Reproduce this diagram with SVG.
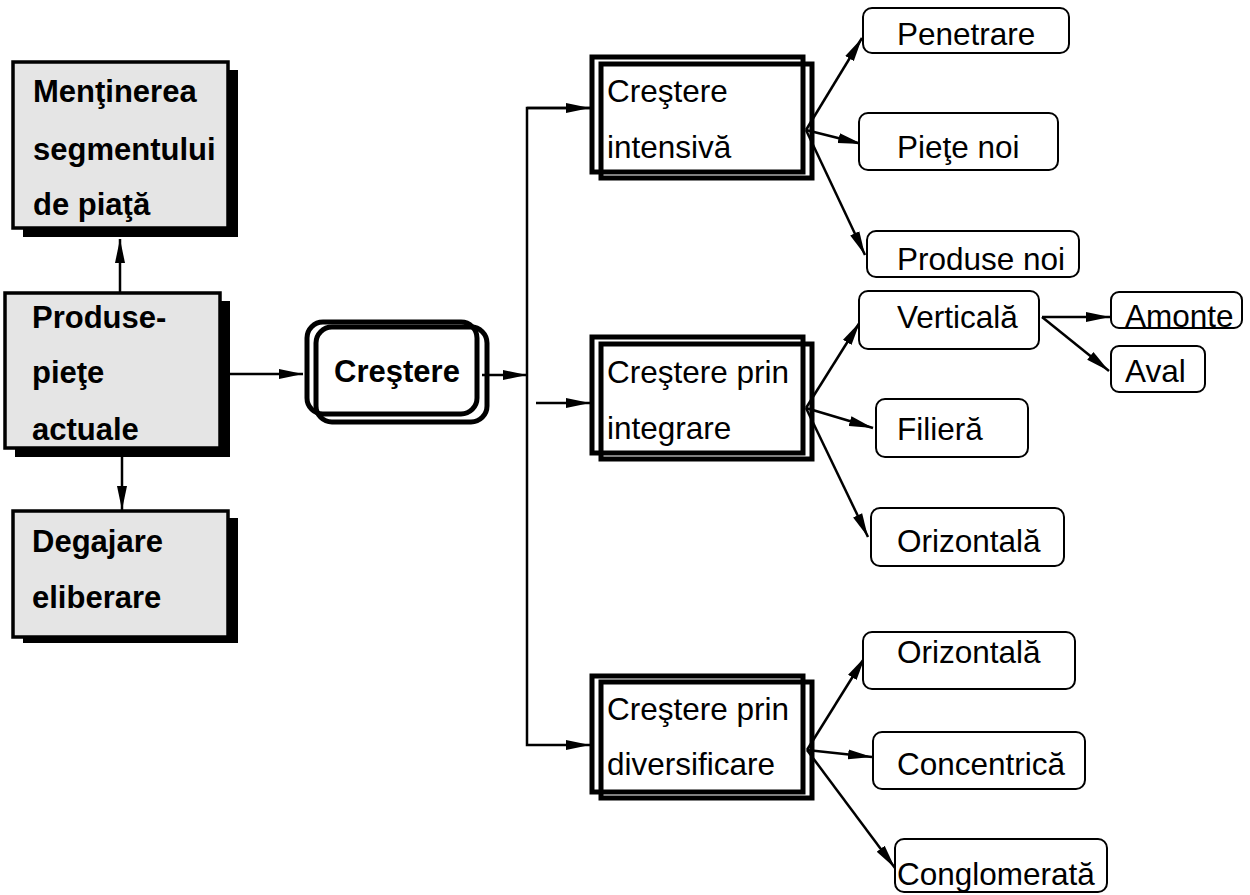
<svg xmlns="http://www.w3.org/2000/svg" width="1250" height="895" viewBox="0 0 1250 895">
  <style>
    text { font-family: "Liberation Sans", Arial, sans-serif; fill: #000; }
    .bold { font-weight: bold; font-size: 31px; }
    .reg { font-size: 31.5px; }
    .shadow { fill: #000; }
    .gray { fill: #e5e5e5; stroke: #000; stroke-width: 3.5; }
    .dbl { fill: none; stroke: #000; stroke-width: 5; }
    .round2 { fill: none; stroke: #000; stroke-width: 5; }
    .leaf { fill: #fff; stroke: #000; stroke-width: 2; }
    .conn { fill: none; stroke: #000; stroke-width: 2.5; }
  </style>
  <defs>
    <marker id="arrow" markerUnits="userSpaceOnUse" markerWidth="25" markerHeight="11" refX="24" refY="5.5" orient="auto">
      <path d="M0,0.5 L24,5.5 L0,10.5 z" fill="#000"/>
    </marker>
  </defs>
  <rect width="1250" height="895" fill="#fff"/>

  <!-- connectors -->
  <g id="connectors">
    <line class="conn" x1="120" y1="293" x2="120" y2="239" marker-end="url(#arrow)"/>
    <line class="conn" x1="122" y1="457" x2="122" y2="510" marker-end="url(#arrow)"/>
    <line class="conn" x1="230" y1="374" x2="303" y2="374" marker-end="url(#arrow)"/>
    <line class="conn" x1="482" y1="375" x2="527" y2="375" marker-end="url(#arrow)"/>
    <polyline class="conn" points="590,108 527,108 527,745 590,745" marker-end="url(#arrow)"/>
    <line class="conn" x1="527" y1="108" x2="590" y2="108" marker-end="url(#arrow)"/>
    <line class="conn" x1="536" y1="403" x2="590" y2="403" marker-end="url(#arrow)"/>

    <line class="conn" x1="806" y1="130" x2="862" y2="38" marker-end="url(#arrow)"/>
    <line class="conn" x1="806" y1="130" x2="862" y2="144" marker-end="url(#arrow)"/>
    <line class="conn" x1="806" y1="130" x2="865" y2="255" marker-end="url(#arrow)"/>

    <line class="conn" x1="806" y1="408" x2="860" y2="322" marker-end="url(#arrow)"/>
    <line class="conn" x1="806" y1="408" x2="873" y2="428" marker-end="url(#arrow)"/>
    <line class="conn" x1="806" y1="408" x2="868" y2="537" marker-end="url(#arrow)"/>

    <line class="conn" x1="807" y1="750" x2="865" y2="657" marker-end="url(#arrow)"/>
    <line class="conn" x1="807" y1="750" x2="872" y2="757" marker-end="url(#arrow)"/>
    <line class="conn" x1="807" y1="750" x2="895" y2="868" marker-end="url(#arrow)"/>

    <line class="conn" x1="1042" y1="317" x2="1110" y2="317" marker-end="url(#arrow)"/>
    <line class="conn" x1="1042" y1="317" x2="1109" y2="371" marker-end="url(#arrow)"/>
  </g>

  <!-- left column -->
  <g id="mentinerea">
    <rect class="shadow" x="23" y="70" width="215" height="167"/>
    <rect class="gray" x="13" y="62" width="215" height="166"/>
    <text class="bold" x="33" y="102">Menţinerea</text>
    <text class="bold" x="33" y="160">segmentului</text>
    <text class="bold" x="33" y="215">de piaţă</text>
  </g>
  <g id="produse-piete">
    <rect class="shadow" x="15" y="301" width="215" height="156"/>
    <rect class="gray" x="5" y="293" width="215" height="155"/>
    <text class="bold" x="32" y="328">Produse-</text>
    <text class="bold" x="32" y="383">pieţe</text>
    <text class="bold" x="32" y="440">actuale</text>
  </g>
  <g id="degajare">
    <rect class="shadow" x="23" y="518" width="215" height="125"/>
    <rect class="gray" x="13" y="511" width="215" height="126"/>
    <text class="bold" x="32" y="552">Degajare</text>
    <text class="bold" x="32" y="608">eliberare</text>
  </g>

  <!-- central node -->
  <g id="crestere">
    <rect class="round2" x="307" y="322" width="170" height="92" rx="16"/>
    <rect class="round2" x="316" y="327" width="171" height="95" rx="16"/>
    <text class="bold" x="397" y="382" text-anchor="middle">Creştere</text>
  </g>

  <!-- growth strategies -->
  <g id="crestere-intensiva">
    <rect class="dbl" x="592" y="57" width="211" height="115"/>
    <rect class="dbl" x="601" y="64" width="211" height="114"/>
    <text class="reg" x="607" y="102">Creştere</text>
    <text class="reg" x="607" y="158">intensivă</text>
  </g>
  <g id="crestere-integrare">
    <rect class="dbl" x="592" y="337" width="211" height="116"/>
    <rect class="dbl" x="601" y="344" width="211" height="115"/>
    <text class="reg" x="607" y="383">Creştere prin</text>
    <text class="reg" x="607" y="439">integrare</text>
  </g>
  <g id="crestere-diversificare">
    <rect class="dbl" x="592" y="676" width="211" height="116"/>
    <rect class="dbl" x="601" y="682" width="211" height="116"/>
    <text class="reg" x="607" y="720">Creştere prin</text>
    <text class="reg" x="607" y="775">diversificare</text>
  </g>

  <!-- leaf options -->
  <g id="penetrare">
    <rect class="leaf" x="863" y="8" width="206" height="45" rx="9"/>
    <text class="reg" x="897" y="45">Penetrare</text>
  </g>
  <g id="piete-noi">
    <rect class="leaf" x="859" y="113" width="199" height="57" rx="9"/>
    <text class="reg" x="897" y="158">Pieţe noi</text>
  </g>
  <g id="produse-noi">
    <rect class="leaf" x="867" y="231" width="212" height="46" rx="9"/>
    <text class="reg" x="897" y="270">Produse noi</text>
  </g>
  <g id="verticala">
    <rect class="leaf" x="859" y="291" width="180" height="58" rx="9"/>
    <text class="reg" x="897" y="328">Verticală</text>
  </g>
  <g id="amonte">
    <rect class="leaf" x="1111" y="292" width="131" height="36" rx="8"/>
    <text class="reg" x="1125" y="327">Amonte</text>
  </g>
  <g id="aval">
    <rect class="leaf" x="1111" y="346" width="94" height="46" rx="8"/>
    <text class="reg" x="1125" y="382">Aval</text>
  </g>
  <g id="filiera">
    <rect class="leaf" x="876" y="399" width="152" height="58" rx="9"/>
    <text class="reg" x="897" y="440">Filieră</text>
  </g>
  <g id="orizontala-integrare">
    <rect class="leaf" x="871" y="508" width="193" height="58" rx="9"/>
    <text class="reg" x="897" y="552">Orizontală</text>
  </g>
  <g id="orizontala-diversificare">
    <rect class="leaf" x="863" y="632" width="212" height="57" rx="9"/>
    <text class="reg" x="897" y="663">Orizontală</text>
  </g>
  <g id="concentrica">
    <rect class="leaf" x="873" y="732" width="212" height="57" rx="9"/>
    <text class="reg" x="897" y="775">Concentrică</text>
  </g>
  <g id="conglomerata">
    <rect class="leaf" x="895" y="839" width="212" height="53" rx="9"/>
    <text class="reg" x="897" y="885">Conglomerată</text>
  </g>
</svg>
